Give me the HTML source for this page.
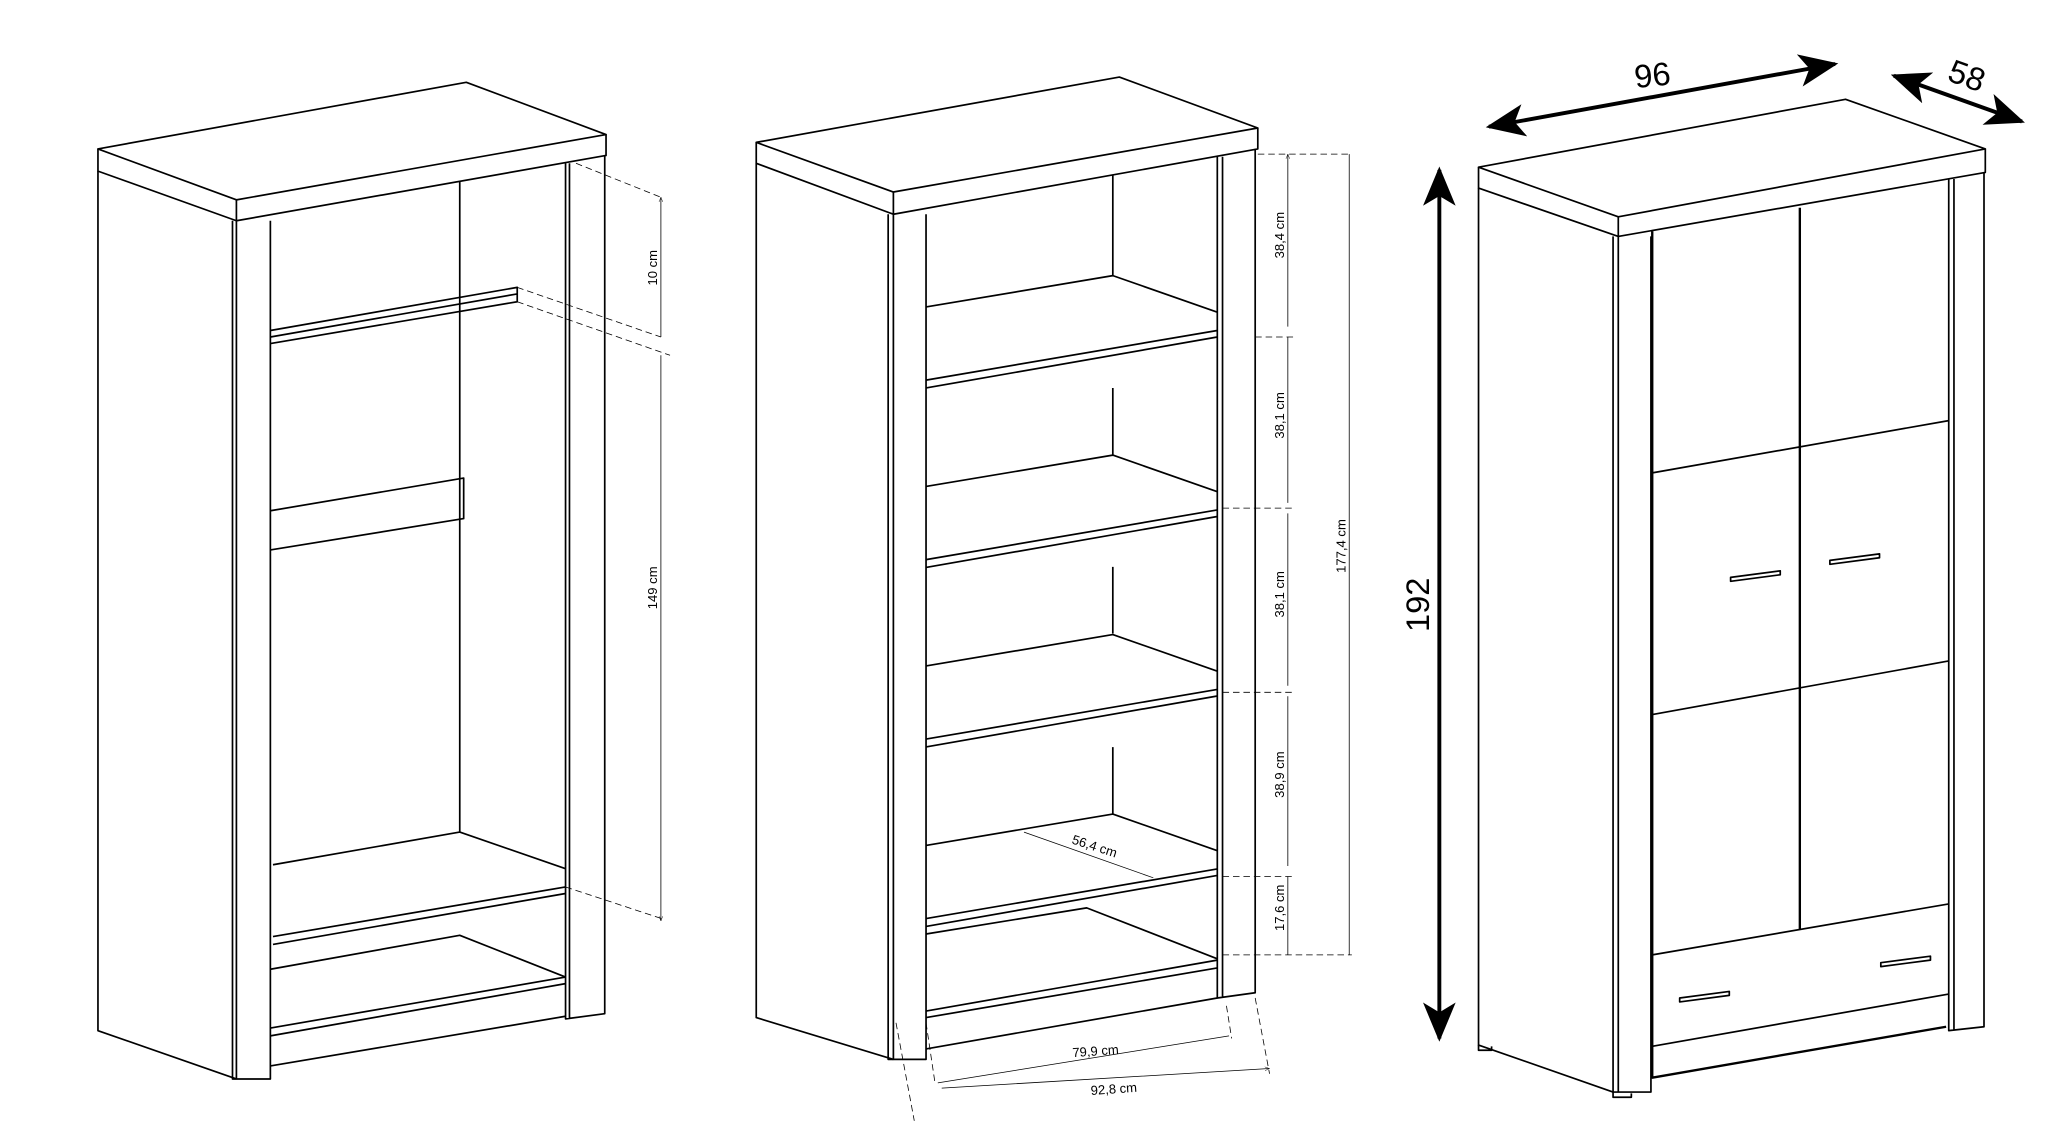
<!DOCTYPE html>
<html><head><meta charset="utf-8"><style>html,body{margin:0;padding:0;background:#fff}svg{display:block}</style></head>
<body>
<svg width="2048" height="1126" viewBox="0 0 1568 862" preserveAspectRatio="none" xmlns="http://www.w3.org/2000/svg" font-family="Liberation Sans, sans-serif">
<defs>
<marker id="a" viewBox="0 0 10 10" refX="10" refY="5" markerWidth="6" markerHeight="6" orient="auto-start-reverse"><path d="M0,1 L10,5 L0,9" fill="none" stroke="#000" stroke-width="1"/></marker>
<marker id="c" viewBox="0 0 12 10" refX="11" refY="5" markerWidth="30" markerHeight="26" orient="auto-start-reverse" markerUnits="userSpaceOnUse"><path d="M0,0 L12,5 L0,10 L3,5 Z" fill="#000"/></marker>
</defs>
<g fill="none" stroke="#000" stroke-width="1.3" stroke-linejoin="round">
<!-- Cabinet 1 -->
<path d="M75,114 L357,63 L464,103 L181,153 Z"/>
<path d="M75,114 V131 L181,169 V153 M181,169 L464,119 V103"/>
<path d="M75,131 V789 L181,826"/>
<path d="M178,169 V826 H207 V169 M181,169 V826"/>
<path d="M433,125 V780 L463,776 V119 M436,125 V780"/>
<path d="M352,139 V637"/>
<path d="M207,253 L396,220 L396,231 L207,263 M207,258 L396,225"/>
<path d="M207,391 L355,366 V397 L207,421"/>
<path d="M209,662 L352,637 L433,665 M209,717 L433,679 M209,723 L433,684"/>
<path d="M207,742 L352,716 L433,748 M207,787 L433,748 M207,793 L433,753 M207,816 L433,778"/>
<!-- Cabinet 2 -->
<path d="M579,109 L857,59 L963,98 L684,147 Z"/>
<path d="M579,109 V125 L684,164 V147 M684,164 L963,114 V98"/>
<path d="M579,125 V779 L684,811"/>
<path d="M680,164 V811 H709 V164 M684,164 V811"/>
<path d="M932,120 V764 L961,760 V114 M936,120 V764"/>
<path d="M852,134 V211"/>
<g id="sh">
<path d="M709,235 L852,211 L932,239 M709,291 L932,253 M709,297 L932,258"/>
</g>
<use href="#sh" transform="translate(0,137.4)"/>
<use href="#sh" transform="translate(0,274.8)"/>
<use href="#sh" transform="translate(0,412.2)"/>
<path d="M852,297 V348 M852,434 V485 M852,572 V623"/>
<path d="M709,715 L832,695 L932,734 M709,774 L932,735 M709,779 L932,741 M709,803 L932,764"/>
<!-- Cabinet 3 -->
<path d="M1132,128 L1413,76 L1520,114 L1239,166 Z"/>
<path d="M1132,128 V144 L1239,181 V166 M1239,181 L1520,132 V114"/>
<path d="M1132,144 V800 L1235,836"/>
<path d="M1235,181 V836 H1264 V181 M1239,181 V836"/>
<path d="M1492,137 V789 L1519,786 V132 M1496,137 V789"/>
<path d="M1265,177 V825 L1490,786 M1378,159 V712" stroke-width="1.8"/>
<path d="M1265,362 L1492,322 M1265,547 L1492,506 M1265,731 L1492,692 M1265,801 L1492,761"/>
<path d="M1325,442 L1363,437 V440 L1325,445 Z M1401,429 L1439,424 V427 L1401,432 Z M1286,764 L1324,759 V762 L1286,767 Z M1440,737 L1478,732 V735 L1440,740 Z" fill="#fff"/>
<path d="M1132,800 v4 h10 v-3 M1235,836 v4 h14 v-3"/>
</g>
<!-- dimensions -->
<g fill="none" stroke="#000" stroke-width="0.6">
<path d="M441,125 L506,151 M396,220 L506,258 M396,231 L513,272 M433,679 L509,704" stroke-dasharray="5,3"/>
<path d="M506,151 V258 M506,272 V705" marker-start="url(#a)" marker-end="url(#a)"/>
<path d="M963,118 H1035 M961,258 H990 M936,389 H990 M936,530 H990 M936,671 H990 M936,731 H1035 M686,783 L700,858 M709,783 L716,830 M939,770 L943,795 M961,764 L972,822" stroke-dasharray="5,3"/>
<path d="M986,118 V250 M986,258 V385 M986,393 V525 M986,533 V663 M986,671 V731 M1033,118 V731 M784,637 L883,672 M718,829 L941,793 M721,833 L972,818" marker-start="url(#a)" marker-end="url(#a)"/>
</g>
<g stroke="#000" stroke-width="3" fill="none">
<path d="M1140,97 L1405,49" marker-start="url(#c)" marker-end="url(#c)"/>
<path d="M1450,58 L1548,93" marker-start="url(#c)" marker-end="url(#c)"/>
<path d="M1102,130 V795" marker-start="url(#c)" marker-end="url(#c)"/>
</g>
<g font-size="10" fill="#000">
<text transform="translate(503,205) rotate(-90)" text-anchor="middle">10 cm</text>
<text transform="translate(503,450) rotate(-90)" text-anchor="middle">149 cm</text>
<text transform="translate(983,180) rotate(-90)" text-anchor="middle">38,4 cm</text>
<text transform="translate(983,318) rotate(-90)" text-anchor="middle">38,1 cm</text>
<text transform="translate(983,455) rotate(-90)" text-anchor="middle">38,1 cm</text>
<text transform="translate(983,593) rotate(-90)" text-anchor="middle">38,9 cm</text>
<text transform="translate(983,695) rotate(-90)" text-anchor="middle">17,6 cm</text>
<text transform="translate(1030,418) rotate(-90)" text-anchor="middle">177,4 cm</text>
<text transform="translate(837,651) rotate(18)" text-anchor="middle">56,4 cm</text>
<text transform="translate(839,808) rotate(-4)" text-anchor="middle">79,9 cm</text>
<text transform="translate(853,837) rotate(-4)" text-anchor="middle">92,8 cm</text>
</g>
<g font-size="25" fill="#000">
<text transform="translate(1266,66) rotate(-6)" text-anchor="middle">96</text>
<text transform="translate(1503,66) rotate(20)" text-anchor="middle">58</text>
<text transform="translate(1094,463) rotate(-90)" text-anchor="middle">192</text>
</g>
</svg>
</body></html>
